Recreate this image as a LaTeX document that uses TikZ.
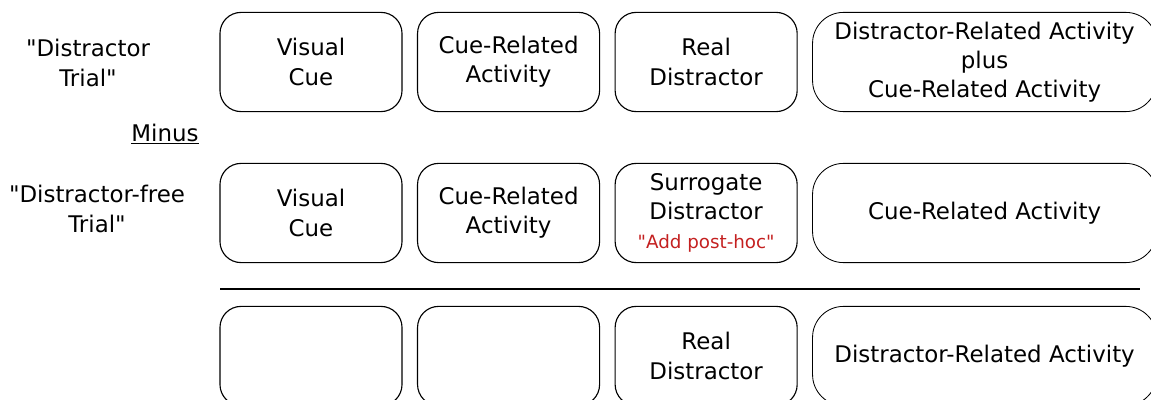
\documentclass[tikz,border=0pt]{standalone}
\usepackage{fontspec}
\setmainfont{DejaVu Sans}[Ligatures=TeXOff]
\usetikzlibrary{positioning}
\definecolor{posthocred}{RGB}{196,32,32}
\begin{document}
\begin{tikzpicture}[x=0.025cm, y=-0.025cm, font=\fontsize{16.3}{20.8}\selectfont]
    \tikzset{stagebox/.style={draw, line width=0.8pt, rounded corners=15pt,
            minimum width=4.55cm, minimum height=2.48cm, inner sep=0pt, align=center},
        activitybox/.style={stagebox, line width=0.6pt, rounded corners=22pt,
            minimum width=8.6cm},
        trialtext/.style={align=center, inner sep=0pt}}
    \useasboundingbox (0,0) rectangle (1151,400);
    % distractor trial
    \node[stagebox] (v1) at (311,62) {Visual\\Cue};
    \node[stagebox, right=0.36cm of v1] (c1) {Cue-Related\\Activity};
    \node[stagebox, right=0.36cm of c1] (d1) {Real\\Distractor};
    \node[activitybox, right=0.36cm of d1] (a1) {Distractor-Related Activity\\plus\\Cue-Related Activity};
    % distractor-free trial
    \node[stagebox] (v2) at (311,213) {Visual\\Cue};
    \node[stagebox, right=0.36cm of v2] (c2) {Cue-Related\\Activity};
    \node[stagebox, right=0.36cm of c2] (d2) {Surrogate\\Distractor\\{\fontsize{13}{20.8}\selectfont\color{posthocred}"Add post-hoc"}};
    \node[activitybox, right=0.36cm of d2] (a2) {Cue-Related Activity};
    % difference
    \node[stagebox] (v3) at (311,356) {};
    \node[stagebox, right=0.36cm of v3] (c3) {};
    \node[stagebox, right=0.36cm of c3] (d3) {Real\\Distractor};
    \node[activitybox, right=0.36cm of d3] (a3) {Distractor-Related Activity};
    \coordinate (ls) at (220,289);
    \coordinate (le) at (1140,289);
    \draw[line width=0.8pt] (ls) -- (le);
    % row labels
    \node[trialtext] (t1) at (88,63) {"Distractor\\Trial"};
    \node[trialtext] (mn) at (165,134) {\underline{Minus}};
    \node[trialtext] (t2) at (97,209) {"Distractor-free\\Trial"};
\end{tikzpicture}
\end{document}
